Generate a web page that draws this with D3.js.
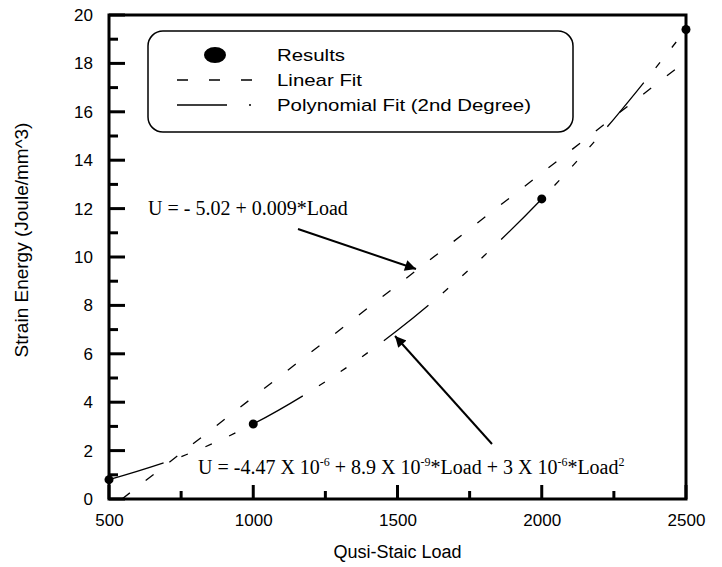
<!DOCTYPE html>
<html>
<head>
<meta charset="utf-8">
<script src="https://cdn.jsdelivr.net/npm/d3@7"></script>
<style>
  body { margin: 0; background: #fff; }
  svg { display: block; }
  .tick-label { font-family: "Liberation Sans", Arial, sans-serif; font-size: 17px; fill: #000; }
  .axis-title { font-family: "Liberation Sans", Arial, sans-serif; font-size: 18px; fill: #000; }
  .eq { font-family: "Liberation Serif", "Times New Roman", serif; font-size: 20px; fill: #000; }
  .legend-text { font-family: "Liberation Sans", Arial, sans-serif; font-size: 17px; fill: #000; }
</style>
</head>
<body>
<svg id="chart" width="722" height="567"></svg>
<script>
// measured results
const loads = [500, 1000, 2000, 2500];
const energy = [0.8, 3.1, 12.4, 19.4];

// linear fit (end points of the dashed line)
const linLoads = [545, 2500];
const linEnergy = [0, 18.1];

// 2nd degree fit
const polyLoads = [500, 750, 1000, 1250, 1500, 1750, 2000, 2250, 2500];
const polyEnergy = [0.8, 1.75, 3.1, 4.85, 6.97, 9.5, 12.4, 15.7, 19.4];

const xMajor = [500, 1000, 1500, 2000, 2500];
const xMinor = [750, 1250, 1750, 2250];
const yMajor = [0, 2, 4, 6, 8, 10, 12, 14, 16, 18, 20];
const yMinor = [1, 3, 5, 7, 9, 11, 13, 15, 17, 19];

const legendLabels = ['Results', 'Linear Fit', 'Polynomial Fit (2nd Degree)'];

const margin = { top: 15, right: 36, bottom: 68, left: 109 };
const W = 722, H = 567;
const width = W - margin.left - margin.right;
const height = H - margin.top - margin.bottom;

const svg = d3.select('#chart');
svg.append('defs').append('marker')
  .attr('id', 'arrow')
  .attr('viewBox', '0 0 10 10')
  .attr('refX', 10).attr('refY', 5)
  .attr('markerWidth', 16).attr('markerHeight', 11)
  .attr('markerUnits', 'userSpaceOnUse')
  .attr('orient', 'auto')
  .append('path')
  .attr('d', 'M0,0 L10,5 L0,10 Z')
  .attr('fill', '#000');

const g = svg.append('g').attr('transform', `translate(${margin.left},${margin.top})`);

const x = d3.scaleLinear().domain([500, 2500]).range([0, width]);
const y = d3.scaleLinear().domain([0, 20]).range([height, 0]);

// tick labels from the axis generators
g.append('g')
  .attr('transform', `translate(0,${height})`)
  .call(d3.axisBottom(x).tickValues(xMajor).tickSize(0).tickPadding(15).tickFormat(d3.format('d')))
  .call(a => a.select('.domain').remove())
  .call(a => a.selectAll('text').attr('class', 'tick-label').attr('fill', '#000'))
  .attr('font-family', null).attr('font-size', null);

g.append('g')
  .call(d3.axisLeft(y).tickValues(yMajor).tickSize(0).tickPadding(16).tickFormat(d3.format('d')))
  .call(a => a.select('.domain').remove())
  .call(a => a.selectAll('text').attr('class', 'tick-label').attr('fill', '#000'))
  .attr('font-family', null).attr('font-size', null);

// inward tick marks, major longer than minor
const ticks = g.append('g').attr('stroke', '#000').attr('stroke-width', 3);
ticks.selectAll('.xt')
  .data(xMajor.map(v => ({ v, len: 14 })).concat(xMinor.map(v => ({ v, len: 8 }))))
  .enter().append('line')
  .attr('class', 'xt')
  .attr('x1', d => x(d.v)).attr('x2', d => x(d.v))
  .attr('y1', height).attr('y2', d => height - d.len);
ticks.selectAll('.yt')
  .data(yMajor.map(v => ({ v, len: 16 })).concat(yMinor.map(v => ({ v, len: 9 }))))
  .enter().append('line')
  .attr('class', 'yt')
  .attr('y1', d => y(d.v)).attr('y2', d => y(d.v))
  .attr('x1', 0).attr('x2', d => d.len);

// frame
g.append('rect')
  .attr('width', width).attr('height', height)
  .attr('fill', 'none').attr('stroke', '#000').attr('stroke-width', 3);

// linear fit
const linData = linLoads.map((d, i) => ({ load: d, u: linEnergy[i] }));
g.append('path')
  .datum(linData)
  .attr('fill', 'none').attr('stroke', '#000').attr('stroke-width', 1.3)
  .attr('stroke-dasharray', '10,20')
  .attr('d', d3.line().x(d => x(d.load)).y(d => y(d.u)));

// polynomial fit
const polyData = polyLoads.map((d, i) => ({ load: d, u: polyEnergy[i] }));
g.append('path')
  .datum(polyData)
  .attr('fill', 'none').attr('stroke', '#000').attr('stroke-width', 1.3)
  .attr('stroke-dasharray', '57,19,7,19,7,19,7,20')
  .attr('d', d3.line().curve(d3.curveCatmullRom).x(d => x(d.load)).y(d => y(d.u)));

// results
g.selectAll('.dot')
  .data(loads.map((d, i) => ({ load: d, u: energy[i] })))
  .enter()
  .append('circle')
  .attr('class', 'dot')
  .attr('cx', d => x(d.load))
  .attr('cy', d => y(d.u))
  .attr('r', 4.5)
  .attr('fill', '#000');

// axis titles
svg.append('text')
  .attr('class', 'axis-title')
  .attr('x', margin.left + width / 2).attr('y', 558)
  .attr('text-anchor', 'middle')
  .text('Qusi-Staic Load');
svg.append('text')
  .attr('class', 'axis-title')
  .attr('transform', `translate(28,240) rotate(-90)`)
  .attr('text-anchor', 'middle')
  .style('font-size', '19px')
  .text('Strain Energy (Joule/mm^3)');

// legend
const lg = svg.append('g');
lg.append('rect')
  .attr('x', 148).attr('y', 31).attr('width', 425).attr('height', 101)
  .attr('rx', 15)
  .attr('fill', '#fff').attr('stroke', '#000').attr('stroke-width', 1.5);
lg.append('ellipse').attr('cx', 215).attr('cy', 55).attr('rx', 11).attr('ry', 8).attr('fill', '#000');
lg.append('line')
  .attr('x1', 177).attr('x2', 254).attr('y1', 80).attr('y2', 80)
  .attr('stroke', '#000').attr('stroke-width', 1.3).attr('stroke-dasharray', '11,21');
lg.append('line')
  .attr('x1', 177).attr('x2', 252).attr('y1', 105).attr('y2', 105)
  .attr('stroke', '#000').attr('stroke-width', 1.3).attr('stroke-dasharray', '50,22,2,40');
lg.selectAll('.legend-text')
  .data(legendLabels)
  .enter()
  .append('text')
  .attr('class', 'legend-text')
  .attr('x', 277)
  .attr('y', (d, i) => 61 + i * 25)
  .text(d => d)
  .each(function () {
    // the legend lettering is wider than plain Arial at this height
    const w = this.getComputedTextLength();
    d3.select(this).attr('textLength', w * 1.2).attr('lengthAdjust', 'spacingAndGlyphs');
  });

// equations with arrows
svg.append('text').attr('class', 'eq').attr('x', 148).attr('y', 215)
  .text('U = - 5.02 + 0.009*Load');
svg.append('line')
  .attr('x1', 298).attr('y1', 229).attr('x2', 416).attr('y2', 269)
  .attr('stroke', '#000').attr('stroke-width', 2).attr('marker-end', 'url(#arrow)');

const eq2 = svg.append('text').attr('class', 'eq').attr('x', 198).attr('y', 474);
const parts = [
  ['U = -4.47 X 10', false], ['-6', true], [' + 8.9 X 10', false], ['-9', true],
  ['*Load + 3 X 10', false], ['-6', true], ['*Load', false], ['2', true]
];
parts.forEach(p => {
  eq2.append('tspan')
    .attr('font-size', p[1] ? 12 : null)
    .attr('baseline-shift', p[1] ? '65%' : null)
    .text(p[0]);
});
svg.append('line')
  .attr('x1', 492).attr('y1', 444).attr('x2', 395).attr('y2', 336)
  .attr('stroke', '#000').attr('stroke-width', 2).attr('marker-end', 'url(#arrow)');
</script>
</body>
</html>
